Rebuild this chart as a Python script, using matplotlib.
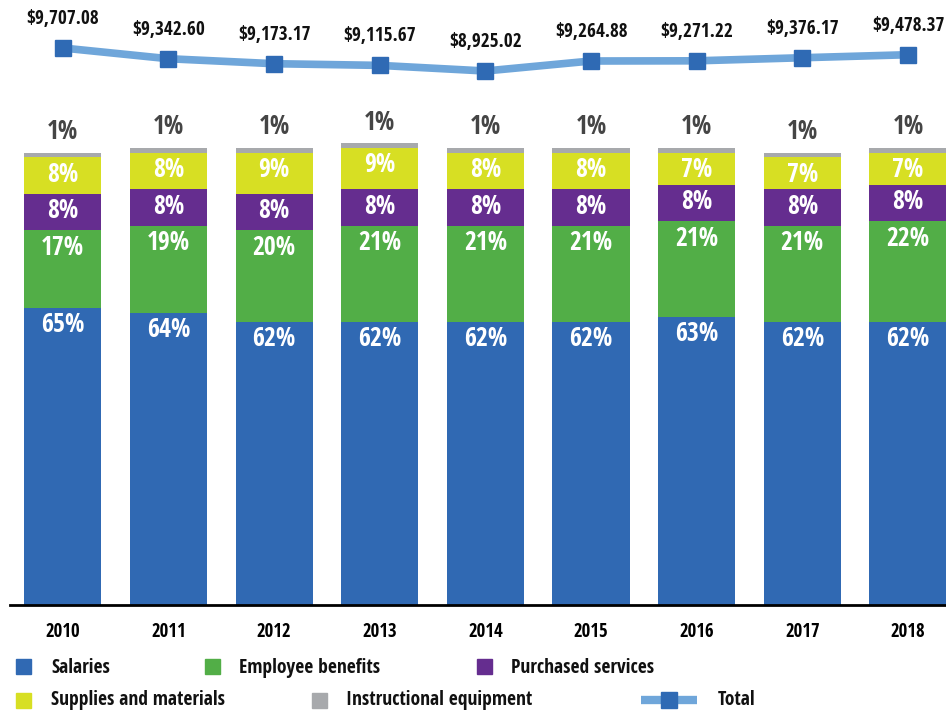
import numpy as np
import matplotlib.pyplot as plt
from matplotlib.patches import Rectangle
from matplotlib.lines import Line2D

plt.rcParams['font.family'] = ['Open Sans Condensed', 'DejaVu Sans']
plt.rcParams['font.weight'] = 'bold'

years = ['2010', '2011', '2012', '2013', '2014', '2015', '2016', '2017', '2018']
salaries = [65, 64, 62, 62, 62, 62, 63, 62, 62]
benefits = [17, 19, 20, 21, 21, 21, 21, 21, 22]
purchased = [8, 8, 8, 8, 8, 8, 8, 8, 8]
supplies = [8, 8, 9, 9, 8, 8, 7, 7, 7]
equipment = [1, 1, 1, 1, 1, 1, 1, 1, 1]
totals = [9707.08, 9342.60, 9173.17, 9115.67, 8925.02, 9264.88, 9271.22, 9376.17, 9478.37]

names = ['Salaries', 'Employee benefits', 'Purchased services',
         'Supplies and materials', 'Instructional equipment']
colors = ['#3069B3', '#52AE47', '#652D8F', '#D7DF23', '#A7A9AC']
line_color = '#6FA6DA'
marker_color = '#2F6AB4'

W, H = 946, 710
fig = plt.figure(figsize=(W / 100, H / 100), dpi=100)
ax = fig.add_axes([10 / W, 105 / H, 936 / W, 605 / H])

x = np.arange(len(years))
bottom = np.zeros(len(years))
for vals, color in zip([salaries, benefits, purchased, supplies, equipment], colors):
    vals = np.array(vals, dtype=float)
    ax.bar(x, vals, 0.73, bottom=bottom, color=color)
    if color != colors[-1]:
        for xi, b, v in zip(x, bottom, vals):
            ax.text(xi, b + v - 3.7, f'{v:.0f}%', ha='center', va='center',
                    color='white', fontsize=18.5, fontweight='bold')
    else:
        for xi, b, v in zip(x, bottom, vals):
            ax.text(xi, b + v + 4.6, f'{v:.0f}%', ha='center', va='center',
                    color='#454545', fontsize=18.5, fontweight='bold')
    bottom += vals

ax.set_xlim(-0.5, 8.36)
ax.set_ylim(0, 605 / 4.57)
for s in ['top', 'left', 'right']:
    ax.spines[s].set_visible(False)
ax.spines['bottom'].set_linewidth(2)
ax.spines['bottom'].set_color('black')
ax.set_yticks([])
ax.set_xticks(x, years)
ax.tick_params(axis='x', length=0, pad=12, labelsize=13.5)

# total spending line on its own scale
ax2 = ax.twinx()
px_per_dollar = 23 / (9707.08 - 8925.02)
top = 9707.08 + 48 / px_per_dollar
ax2.set_ylim(top - 605 / px_per_dollar, top)
ax2.axis('off')
ax2.plot(x, totals, color=line_color, lw=5.5, marker='s', ms=11.5,
         mfc=marker_color, mec=marker_color, zorder=3)
for xi, v in zip(x, totals):
    ax2.annotate(f'${v:,.2f}', (xi, v), xytext=(0, 21), textcoords='offset points',
                 ha='center', va='center', fontsize=13.8, fontweight='bold', color='#111111')

# legend
def fx(px):
    return px / W

def fy(py):
    return 1 - py / H

legend_items = [
    (0, 16, 51, 666, 668), (1, 205, 239, 666, 668), (2, 477, 511, 666, 668),
    (3, 16, 51, 700, 700), (4, 312, 346, 700, 700),
]
for i, sx, tx, cy, ty in legend_items:
    fig.add_artist(Rectangle((fx(sx), fy(cy + 7.5)), 15 / W, 15 / H,
                             transform=fig.transFigure, color=colors[i]))
    fig.text(fx(tx), fy(ty), names[i], ha='left', va='center', fontsize=14,
             fontweight='bold', color='#111111')
fig.add_artist(Line2D([fx(641), fx(697)], [fy(700), fy(700)], transform=fig.transFigure,
                      color=line_color, lw=6, solid_capstyle='butt'))
fig.add_artist(Line2D([fx(669)], [fy(700)], transform=fig.transFigure, marker='s',
                      ms=12, color=marker_color))
fig.text(fx(718), fy(700), 'Total', ha='left', va='center', fontsize=14,
         fontweight='bold', color='#111111')

fig.savefig('out.png', dpi=100)
